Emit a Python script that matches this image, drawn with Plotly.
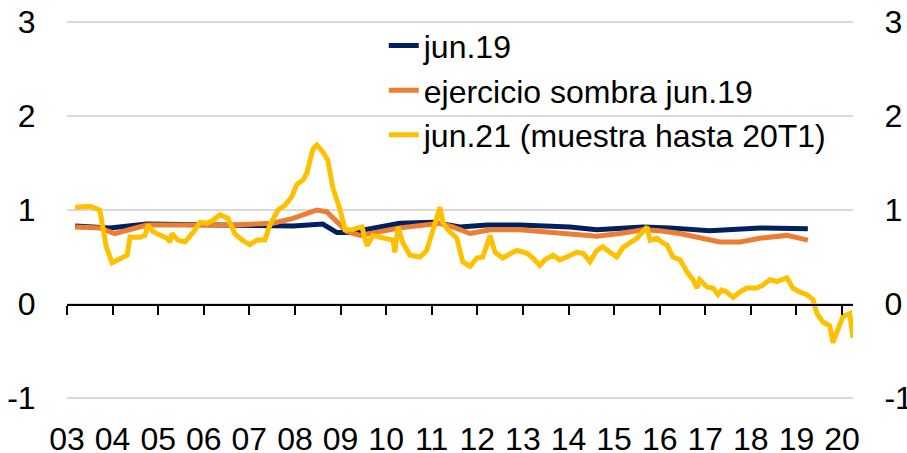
import plotly.graph_objects as go

# fechas en años decimales
x_jun19 = [2003.18, 2003.94, 2004.75, 2005.92, 2007.23, 2007.96, 2008.61, 2008.92, 2009.21,
           2009.80, 2010.30, 2011.03, 2011.62, 2012.21, 2012.93, 2014.03, 2014.62, 2015.63,
           2016.22, 2017.10, 2018.20, 2019.25]
y_jun19 = [0.83, 0.81, 0.85, 0.84, 0.84, 0.83, 0.85, 0.76, 0.76,
           0.81, 0.86, 0.87, 0.82, 0.84, 0.84, 0.82, 0.79, 0.82,
           0.81, 0.78, 0.81, 0.80]

x_sombra = [2003.18, 2003.72, 2004.05, 2004.75, 2006.64, 2007.52, 2007.96, 2008.48, 2008.70,
            2008.92, 2009.14, 2009.43, 2009.86, 2010.30, 2011.18, 2011.46, 2011.84, 2012.28,
            2012.93, 2014.03, 2014.62, 2015.13, 2015.63, 2016.00, 2016.44, 2017.32, 2017.76,
            2018.20, 2018.79, 2019.25]
y_sombra = [0.82, 0.81, 0.75, 0.84, 0.84, 0.86, 0.91, 1.00, 0.98,
            0.87, 0.77, 0.73, 0.77, 0.81, 0.86, 0.82, 0.75, 0.79,
            0.79, 0.75, 0.72, 0.75, 0.79, 0.78, 0.75, 0.66, 0.66,
            0.70, 0.73, 0.68]

x_jun21 = [2003.18, 2003.50, 2003.72, 2003.79, 2003.86, 2003.99, 2004.12, 2004.21, 2004.32,
           2004.38, 2004.60, 2004.71, 2004.78, 2004.89, 2005.04, 2005.19, 2005.26, 2005.30,
           2005.43, 2005.59, 2005.81, 2005.92, 2006.07, 2006.20, 2006.36, 2006.53, 2006.68,
           2006.84, 2007.01, 2007.17, 2007.34, 2007.45, 2007.63, 2007.78, 2007.93, 2008.04,
           2008.18, 2008.26, 2008.39, 2008.48, 2008.61, 2008.72, 2008.83, 2008.99, 2009.10,
           2009.25, 2009.38, 2009.47, 2009.58, 2009.71, 2009.97, 2010.15, 2010.19, 2010.26,
           2010.37, 2010.52, 2010.74, 2010.89, 2011.03, 2011.11, 2011.18, 2011.25, 2011.36,
           2011.55, 2011.68, 2011.84, 2011.99, 2012.12, 2012.28, 2012.39, 2012.56, 2012.78,
           2012.87, 2013.09, 2013.22, 2013.37, 2013.48, 2013.66, 2013.81, 2013.96, 2014.18,
           2014.32, 2014.47, 2014.62, 2014.75, 2014.91, 2015.06, 2015.19, 2015.35, 2015.50,
           2015.63, 2015.72, 2015.79, 2015.94, 2016.07, 2016.16, 2016.29, 2016.45, 2016.60,
           2016.73, 2016.82, 2016.88, 2017.04, 2017.17, 2017.28, 2017.36, 2017.47, 2017.61,
           2017.76, 2017.91, 2018.13, 2018.26, 2018.42, 2018.57, 2018.79, 2018.92, 2019.07,
           2019.23, 2019.36, 2019.45, 2019.58, 2019.73, 2019.80, 2019.95, 2020.02, 2020.17,
           2020.24]
y_jun21 = [1.03, 1.04, 1.00, 0.79, 0.61, 0.44, 0.47, 0.49, 0.52,
           0.71, 0.71, 0.73, 0.84, 0.77, 0.73, 0.70, 0.66, 0.75,
           0.68, 0.66, 0.79, 0.87, 0.86, 0.89, 0.95, 0.91, 0.75,
           0.68, 0.63, 0.68, 0.68, 0.84, 1.00, 1.05, 1.14, 1.27,
           1.32, 1.39, 1.64, 1.69, 1.62, 1.53, 1.24, 1.00, 0.79,
           0.79, 0.81, 0.82, 0.62, 0.73, 0.70, 0.68, 0.55, 0.82,
           0.65, 0.52, 0.50, 0.57, 0.79, 0.93, 1.03, 0.86, 0.79,
           0.70, 0.45, 0.40, 0.49, 0.50, 0.73, 0.55, 0.49, 0.55,
           0.57, 0.54, 0.49, 0.41, 0.47, 0.52, 0.47, 0.50, 0.55,
           0.54, 0.45, 0.57, 0.61, 0.55, 0.50, 0.60, 0.66, 0.70,
           0.77, 0.82, 0.68, 0.70, 0.65, 0.63, 0.50, 0.47, 0.34,
           0.26, 0.17, 0.26, 0.18, 0.17, 0.10, 0.15, 0.13, 0.07,
           0.13, 0.17, 0.17, 0.20, 0.26, 0.24, 0.28, 0.17, 0.13,
           0.10, 0.05, -0.10, -0.19, -0.23, -0.41, -0.20, -0.13, -0.10,
           -0.36]

years = list(range(2003, 2021))
year_labels = [f"{y % 100:02d}" for y in years]
y_ticks = [-1, 0, 1, 2, 3]
y_labels = ["-1", "0", "1", "2", "3"]

FONT = "Liberation Sans, Arial, sans-serif"
x_range = [2003, 2020.24]
y_range = [-1.03, 3.03]
zero_frac = (0 - y_range[0]) / (y_range[1] - y_range[0])

fig = go.Figure()
fig.add_trace(go.Scatter(x=x_jun19, y=y_jun19, mode="lines", name="jun.19",
                         line=dict(color="#002060", width=5)))
fig.add_trace(go.Scatter(x=x_sombra, y=y_sombra, mode="lines", name="ejercicio sombra jun.19",
                         line=dict(color="#ED7D31", width=5)))
fig.add_trace(go.Scatter(x=x_jun21, y=y_jun21, mode="lines", name="jun.21 (muestra hasta 20T1)",
                         line=dict(color="#FFC000", width=5)))
# eje derecho (solo etiquetas)
fig.add_trace(go.Scatter(x=[None], y=[None], yaxis="y2", showlegend=False, hoverinfo="skip"))
# eje x en el cero (línea y marcas)
fig.add_trace(go.Scatter(x=[None], y=[None], xaxis="x2", yaxis="y3", showlegend=False, hoverinfo="skip"))

fig.update_layout(
    width=907, height=453,
    margin=dict(l=67, r=54, t=19, b=52),
    plot_bgcolor="rgba(0,0,0,0)", paper_bgcolor="white",
    font=dict(family=FONT, size=32, color="black"),
    xaxis=dict(range=x_range, tickvals=years, ticktext=year_labels, showgrid=False,
               zeroline=False, showline=False, ticks="outside", ticklen=10,
               tickcolor="rgba(0,0,0,0)", tickfont=dict(size=32), automargin=False,
               ticklabeloverflow="allow"),
    yaxis=dict(range=y_range, tickvals=y_ticks, ticktext=y_labels, showgrid=True,
               gridcolor="#d9d9d9", gridwidth=1.5, zeroline=False, ticks="outside",
               ticklen=24, tickcolor="rgba(0,0,0,0)", tickfont=dict(size=32),
               automargin=False, ticklabeloverflow="allow"),
    yaxis2=dict(range=y_range, tickvals=y_ticks, ticktext=y_labels, overlaying="y",
                side="right", showgrid=False, zeroline=False, ticks="outside", ticklen=24,
                tickcolor="rgba(0,0,0,0)", tickfont=dict(size=32), automargin=False,
                ticklabeloverflow="allow"),
    xaxis2=dict(range=x_range, tickvals=years, showticklabels=False, anchor="y3",
                overlaying="x", showgrid=False, zeroline=False, showline=True,
                linecolor="black", linewidth=1.5, ticks="outside", ticklen=9,
                tickwidth=1.5, tickcolor="black", automargin=False),
    yaxis3=dict(domain=[zero_frac, 1], visible=False, showgrid=False),
    legend=dict(x=0.403, y=1.002, xanchor="left", yanchor="top",
                bgcolor="rgba(0,0,0,0)", font=dict(size=32), tracegroupgap=0),
    showlegend=True,
)

# quitar el margen por defecto de la página para que la figura ocupe la ventana
fig.write_html("out.html", config={"displayModeBar": False},
               post_script="document.body.style.margin='0';")
